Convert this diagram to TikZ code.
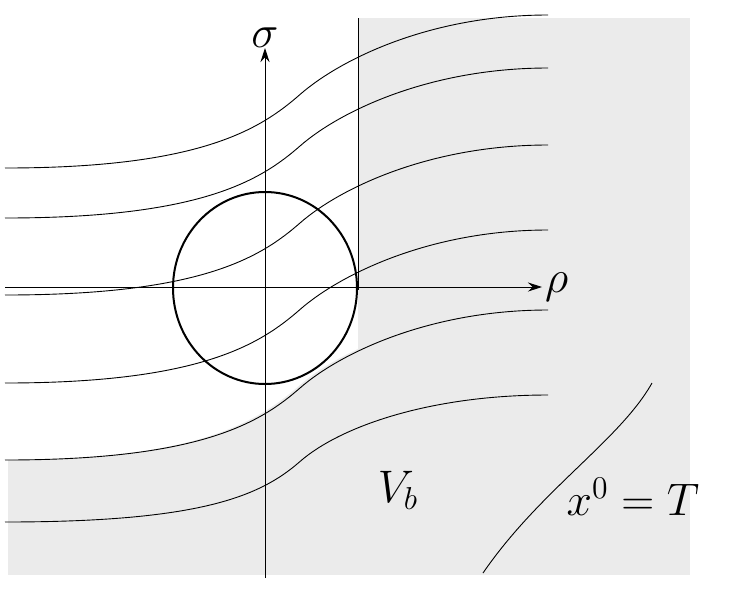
\documentclass[tikz,border=0pt]{standalone}
\usetikzlibrary{arrows.meta}
\tikzset{flow/.style={line width=0.9pt},
  lbl/.style={font=\huge,scale=2.2}}
\begin{document}
\begin{tikzpicture}[x=1pt,y=-1pt]
      \useasboundingbox (0,0) rectangle (731,590);

      % shaded region V_b
      \fill[black!8] (358,18) rectangle (690,575);
      \begin{scope}
        \clip (8,460) .. controls (200,460) and (260,420) .. (300,385)
          .. controls (340,350) and (430,310) .. (548,310)
          -- (690,310) -- (690,575) -- (8,575) -- cycle;
        \fill[black!8] (8,300) rectangle (690,575);
      \end{scope}

      % level lines
      \foreach \yl/\yr in {168/15, 218/68, 295/145, 383/230, 460/310, 522/395}{
        \pgfmathsetmacro{\ym}{(\yl+\yr)/2+3}
        \draw[flow] (5,\yl) .. controls (200,\yl) and (260,\ym+35) .. (300,\ym)
          .. controls (340,\ym-35) and (430,\yr) .. (548,\yr);
      }

      \draw[flow] (358,18) -- (358,290);

      % axes
      \draw[flow,-{Stealth[length=14pt,width=9pt]}] (5,287) -- (542,287) node (rho) [right,lbl,inner sep=1pt] {$\rho$};
      \draw[flow,-{Stealth[length=14pt,width=9pt]}] (265,578) -- (265,48) node (sig) [above,lbl,inner sep=0pt] {$\sigma$};

      \draw[line width=2pt] (265,288) ellipse (92 and 96);

      % surface x^0 = T
      \draw[flow] (483,573) .. controls (540,490) and (620,440) .. (652,383);
      \node (vb) [lbl] at (398,490) {$V_b$};
      \node (surf) [lbl] at (633,497) {$x^0=T$};
\end{tikzpicture}
\end{document}
